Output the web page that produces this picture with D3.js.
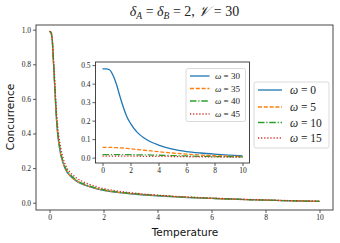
<!DOCTYPE html>
<html><head><meta charset="utf-8">
<script src="https://cdn.jsdelivr.net/npm/d3@7"></script>
<style>body{margin:0;background:#fff}svg{display:block}</style>
</head><body>
<svg id="c" width="340" height="243"></svg>
<script>
// ---- data ----
const mainT = [0, 0.05, 0.1, 0.15, 0.2, 0.25, 0.3, 0.4, 0.5, 0.6, 0.8, 1.0, 1.25, 1.5, 2, 2.5, 3, 4, 5, 6, 7, 8, 9, 10];
const mainW0  = [0.99, 0.985, 0.94, 0.80, 0.65, 0.50, 0.40, 0.29, 0.23, 0.19, 0.15, 0.125, 0.105, 0.092, 0.072, 0.060, 0.052, 0.040, 0.031, 0.025, 0.019, 0.015, 0.011, 0.008];
const mainW5  = [0.99, 0.985, 0.94, 0.80, 0.655, 0.505, 0.405, 0.295, 0.233, 0.193, 0.152, 0.127, 0.107, 0.093, 0.073, 0.061, 0.053, 0.041, 0.032, 0.025, 0.019, 0.015, 0.011, 0.008];
const mainW10 = [0.99, 0.985, 0.945, 0.81, 0.665, 0.515, 0.415, 0.305, 0.241, 0.199, 0.157, 0.131, 0.110, 0.096, 0.075, 0.063, 0.054, 0.042, 0.032, 0.026, 0.020, 0.015, 0.011, 0.008];
const mainW15 = [0.99, 0.985, 0.95, 0.83, 0.69, 0.55, 0.45, 0.33, 0.26, 0.215, 0.17, 0.143, 0.121, 0.105, 0.082, 0.068, 0.058, 0.044, 0.034, 0.027, 0.021, 0.016, 0.012, 0.009];
const mainLabels = ["0", "5", "10", "15"];

const insetT = [0, 0.25, 0.5, 0.75, 1, 1.25, 1.5, 1.75, 2, 2.5, 3, 3.5, 4, 5, 6, 7, 8, 9, 10];
const insW30 = [0.48, 0.48, 0.475, 0.445, 0.395, 0.33, 0.27, 0.22, 0.185, 0.135, 0.105, 0.083, 0.068, 0.046, 0.033, 0.025, 0.019, 0.014, 0.010];
const insW35 = [0.055, 0.055, 0.055, 0.055, 0.054, 0.053, 0.052, 0.050, 0.048, 0.044, 0.040, 0.036, 0.032, 0.025, 0.019, 0.014, 0.011, 0.008, 0.006];
const insW40 = [0.016, 0.016, 0.016, 0.016, 0.016, 0.016, 0.016, 0.016, 0.016, 0.015, 0.015, 0.014, 0.013, 0.011, 0.009, 0.007, 0.006, 0.005, 0.004];
const insW45 = [0.008, 0.008, 0.008, 0.008, 0.008, 0.008, 0.008, 0.008, 0.008, 0.008, 0.007, 0.007, 0.007, 0.006, 0.005, 0.004, 0.004, 0.003, 0.003];
const insetLabels = ["30", "35", "40", "45"];

const mainXTicks = [0, 2, 4, 6, 8, 10];
const mainYTicks = [0.0, 0.2, 0.4, 0.6, 0.8, 1.0];
const insXTicks = [0, 2, 4, 6, 8, 10];
const insYTicks = [0.0, 0.1, 0.2, 0.3, 0.4, 0.5];

// ---- styles ----
const colors = ["#1f77b4", "#ff7f0e", "#2ca02c", "#d62728"];
const dashes = [null, "4,1.8", "6.5,1.8,1.2,1.8", "1.2,1.9"];
const serif = "Liberation Serif";
const sans = "DejaVu Sans";
const spine = "#333";

const svg = d3.select("#c");

function panel(g, box, xdom, ydom, T, series, xt, yt, fs) {
  const x = d3.scaleLinear().domain(xdom).range([box.l, box.r]);
  const y = d3.scaleLinear().domain(ydom).range([box.b, box.t]);
  g.append("rect").attr("x", box.l).attr("y", box.t).attr("width", box.r - box.l).attr("height", box.b - box.t).attr("fill", "#fff");
  const clipId = "clip" + Math.round(box.l);
  g.append("clipPath").attr("id", clipId).append("rect").attr("x", box.l).attr("y", box.t).attr("width", box.r - box.l).attr("height", box.b - box.t);
  const line = d3.line().x(d => x(d[0])).y(d => y(d[1])).curve(d3.curveMonotoneX);
  const lg = g.append("g").attr("clip-path", `url(#${clipId})`);
  series.forEach((s, i) => {
    lg.append("path").datum(T.map((t, j) => [t, s[j]]))
      .attr("d", line).attr("fill", "none").attr("stroke", colors[i])
      .attr("stroke-width", 1.3).attr("stroke-dasharray", dashes[i]);
  });
  const xa = g.append("g").attr("transform", `translate(0,${box.b})`)
    .call(d3.axisBottom(x).tickValues(xt).tickSize(3).tickPadding(2).tickFormat(d3.format("d")));
  const ya = g.append("g").attr("transform", `translate(${box.l},0)`)
    .call(d3.axisLeft(y).tickValues(yt).tickSize(3).tickPadding(2).tickFormat(d3.format(".1f")));
  [xa, ya].forEach(a => {
    a.select(".domain").remove();
    a.selectAll("line").attr("stroke", spine).attr("stroke-width", 0.8);
    a.selectAll("text").attr("font-family", serif).attr("font-size", fs).attr("fill", "#222");
  });
  g.append("rect").attr("x", box.l).attr("y", box.t).attr("width", box.r - box.l).attr("height", box.b - box.t)
    .attr("fill", "none").attr("stroke", spine).attr("stroke-width", 0.9);
  return {x, y};
}

function legend(g, lx, ly, w, h, labels, fs, lineLen, textX, rowH, firstY) {
  g.append("rect").attr("x", lx).attr("y", ly).attr("width", w).attr("height", h).attr("rx", 2)
    .attr("fill", "#fff").attr("fill-opacity", 0.85).attr("stroke", "#d0d0d0").attr("stroke-width", 0.8);
  labels.forEach((lab, i) => {
    const yy = firstY + rowH[i];
    g.append("line").attr("x1", lx + 4).attr("x2", lx + 4 + lineLen).attr("y1", yy).attr("y2", yy)
      .attr("stroke", colors[i]).attr("stroke-width", 1.3).attr("stroke-dasharray", dashes[i]);
    const t = g.append("text").attr("x", lx + textX).attr("y", yy).attr("dy", "0.35em")
      .attr("font-family", serif).attr("font-size", fs).attr("fill", "#222");
    t.append("tspan").attr("font-style", "italic").text("ω");
    t.append("tspan").text(" = " + lab);
  });
}

// main axes
const mainBox = {l: 36, r: 333, t: 25, b: 210};
panel(svg.append("g"), mainBox, [-0.5, 10.5], [-0.042, 1.027], mainT,
  [mainW0, mainW5, mainW10, mainW15], mainXTicks, mainYTicks, 7.5);

// main legend
legend(svg.append("g"), 254, 82, 75, 66, mainLabels, 11.5, 24, 36, [0, 17, 32.5, 48], 90);

// inset
const insBox = {l: 95.5, r: 249.5, t: 62, b: 163};
panel(svg.append("g"), insBox, [-0.5, 10.5], [-0.029, 0.517], insetT,
  [insW30, insW35, insW40, insW45], insXTicks, insYTicks, 7.5);
legend(svg.append("g"), 186, 68.5, 59.5, 53, insetLabels, 9, 19.5, 29, [0, 12.5, 25, 38], 76);

// title
const title = svg.append("text").attr("x", 184.5).attr("y", 16).attr("text-anchor", "middle")
  .attr("font-family", serif).attr("font-size", 14).attr("fill", "#222");
title.append("tspan").attr("font-style", "italic").text("δ");
title.append("tspan").attr("font-style", "italic").attr("font-size", 9.5).attr("dy", 3).text("A");
title.append("tspan").attr("dy", -3).text(" = ");
title.append("tspan").attr("font-style", "italic").text("δ");
title.append("tspan").attr("font-style", "italic").attr("font-size", 9.5).attr("dy", 3).text("B");
title.append("tspan").attr("dy", -3).text(" = 2, ");
title.append("tspan").attr("font-style", "italic").text("𝒱");
title.append("tspan").text(" = 30");

// axis labels
svg.append("text").attr("x", 185).attr("y", 236).attr("text-anchor", "middle")
  .attr("font-family", sans).attr("font-size", 10.5).attr("fill", "#111").text("Temperature");
svg.append("text").attr("transform", "translate(14,117) rotate(-90)").attr("text-anchor", "middle")
  .attr("font-family", sans).attr("font-size", 10.5).attr("fill", "#111").text("Concurrence");
</script>
</body></html>
